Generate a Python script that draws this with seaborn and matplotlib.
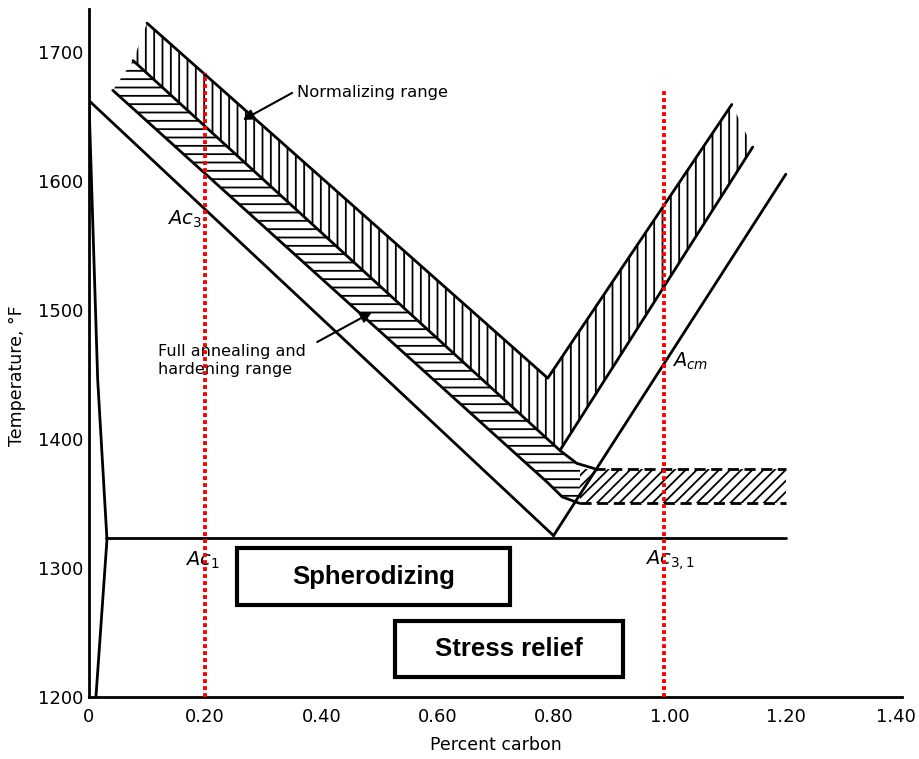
import matplotlib
matplotlib.use("Agg")
import matplotlib.pyplot as plt
import seaborn as sns
from matplotlib.patches import Polygon, Rectangle

# critical lines, percent carbon vs temperature (F)
ac3_c = [0.0, 0.80]
ac3_t = [1662, 1325]
acm_c = [0.80, 1.20]
acm_t = [1325, 1605]
ac1_c = [0.03, 1.20]
ac1_t = [1323, 1323]
alpha_c = [0.0, 0.015, 0.031, 0.012]
alpha_t = [1662, 1446, 1322, 1200]

# normalizing band
norm_top_c = [0.10, 0.79, 1.107]
norm_top_t = [1722, 1447, 1659]
norm_bot_c = [0.811, 1.143]
norm_bot_t = [1391, 1626]

# full annealing band (hypoeutectoid part, curving into the flat part)
anneal_top_c = [0.076, 0.811, 0.84, 0.87]
anneal_top_t = [1693, 1391, 1381, 1377]
anneal_bot_c = [0.041, 0.79, 0.815, 0.845]
anneal_bot_t = [1670, 1366, 1355, 1350]
# flat hypereutectoid part
hyper_c = [0.845, 1.20]
hyper_t = [1350, 1377]

# red markers
red_c = [0.20, 0.99]
red_top = [1683, 1670]

# boxes
box_names = ["Spherodizing", "Stress relief"]
box_c = [(0.255, 0.725), (0.527, 0.92)]
box_t = [(1271, 1315.5), (1215.5, 1259)]

xticks = [0, 0.20, 0.40, 0.60, 0.80, 1.00, 1.20, 1.40]
xtick_labels = ["0", "0.20", "0.40", "0.60", "0.80", "1.00", "1.20", "1.40"]
yticks = [1200, 1300, 1400, 1500, 1600, 1700]

sns.set_style("white")
plt.rcParams.update({
    "hatch.linewidth": 1.3,
    "mathtext.fontset": "dejavusans",
    "text.color": "black",
    "axes.labelcolor": "black",
    "xtick.color": "black",
    "ytick.color": "black",
    "font.family": ["DejaVu Sans"],
})

fig = plt.figure(figsize=(9.2, 7.59), dpi=100)
ax = fig.add_axes([0.0967, 0.0817, 0.8837, 0.9065])

# hatched bands
norm_poly = list(zip(norm_top_c, norm_top_t)) + list(zip(norm_bot_c[::-1], norm_bot_t[::-1])) \
    + [(anneal_top_c[0], anneal_top_t[0])]
ax.add_patch(Polygon(norm_poly, closed=True, facecolor="white", edgecolor="black",
                     lw=0, hatch="||", zorder=1))
ann_poly = list(zip(anneal_top_c, anneal_top_t)) + list(zip(anneal_bot_c[::-1], anneal_bot_t[::-1]))
ax.add_patch(Polygon(ann_poly, closed=True, facecolor="white", edgecolor="black",
                     lw=0, hatch="--", zorder=1))
ax.add_patch(Rectangle((hyper_c[0], hyper_t[0]), hyper_c[1] - hyper_c[0], hyper_t[1] - hyper_t[0],
                       facecolor="white", edgecolor="black", lw=0, hatch="///", zorder=1.5))

# band edges
for c, t in [(norm_top_c, norm_top_t), (norm_bot_c, norm_bot_t),
             (anneal_top_c, anneal_top_t), (anneal_bot_c, anneal_bot_t)]:
    sns.lineplot(x=c, y=t, ax=ax, color="black", lw=2, sort=False, estimator=None)
ax.plot([anneal_top_c[-1], hyper_c[1]], [hyper_t[1], hyper_t[1]],
        color="black", lw=2, dashes=(4, 2), zorder=2)
ax.plot([hyper_c[0], hyper_c[1]], [hyper_t[0], hyper_t[0]],
        color="black", lw=2, dashes=(4, 2), zorder=2)

# critical lines
for c, t in [(ac3_c, ac3_t), (acm_c, acm_t), (ac1_c, ac1_t), (alpha_c, alpha_t)]:
    sns.lineplot(x=c, y=t, ax=ax, color="black", lw=2, sort=False, estimator=None, zorder=3)

# red dotted markers
for c, top in zip(red_c, red_top):
    ax.plot([c, c], [1200, top], color="red", lw=2.8, dashes=(1.0, 0.8), zorder=4)

# boxes
for name, (c0, c1), (t0, t1) in zip(box_names, box_c, box_t):
    ax.add_patch(Rectangle((c0, t0), c1 - c0, t1 - t0, facecolor="white",
                           edgecolor="black", lw=3, zorder=5))
    ax.text((c0 + c1) / 2, (t0 + t1) / 2, name, ha="center", va="center",
            fontsize=18.5, fontweight="bold", family="Liberation Sans", zorder=6)

# labels on the lines
ax.text(0.164, 1570, r"$Ac_3$", fontsize=14, ha="center", va="center")
ax.text(1.035, 1460, r"$A_{cm}$", fontsize=14, ha="center", va="center")
ax.text(0.195, 1306, r"$Ac_1$", fontsize=14, ha="center", va="center")
ax.text(1.0, 1306, r"$Ac_{3,1}$", fontsize=14, ha="center", va="center")

# annotations
ax.text(0.358, 1668, "Normalizing range", fontsize=11.8, ha="left", va="center")
ax.annotate("", xy=(0.265, 1647), xytext=(0.35, 1668),
            arrowprops=dict(arrowstyle="-|>", color="black", lw=1.5, mutation_scale=16,
                            shrinkA=0, shrinkB=0))
ax.text(0.119, 1461, "Full annealing and\nhardening range", fontsize=11.5,
        ha="left", va="center", linespacing=1.25)
ax.annotate("", xy=(0.487, 1498), xytext=(0.393, 1475),
            arrowprops=dict(arrowstyle="-|>", color="black", lw=1.5, mutation_scale=16,
                            shrinkA=0, shrinkB=0))

# axes
ax.set_xlim(0, 1.40)
ax.set_ylim(1200, 1733)
ax.set_xticks(xticks)
# last label is nudged left so it stays inside the canvas
ax.set_xticklabels(xtick_labels[:-1] + [""], fontsize=13)
ax.annotate(xtick_labels[-1], xy=(xticks[-1], 0), xycoords=("data", "axes fraction"),
            xytext=(-4, -8), textcoords="offset points", ha="center", va="top", fontsize=13)
ax.set_yticks(yticks)
ax.set_yticklabels([str(y) for y in yticks], fontsize=13)
ax.tick_params(direction="in", length=8, width=1.8, pad=4)
ax.tick_params(axis="x", pad=8)
for s in ["top", "right"]:
    ax.spines[s].set_visible(False)
for s in ["left", "bottom"]:
    ax.spines[s].set_linewidth(2)
    ax.spines[s].set_color("black")

ax.set_xlabel("Percent carbon", fontsize=12.5)
ax.xaxis.set_label_coords(0.5, -0.056)
ax.set_ylabel("Temperature, \u00b0F", fontsize=12.5)
ax.yaxis.set_label_coords(-0.078, 0.4665)

fig.savefig("out.png", dpi=100, facecolor="white")
